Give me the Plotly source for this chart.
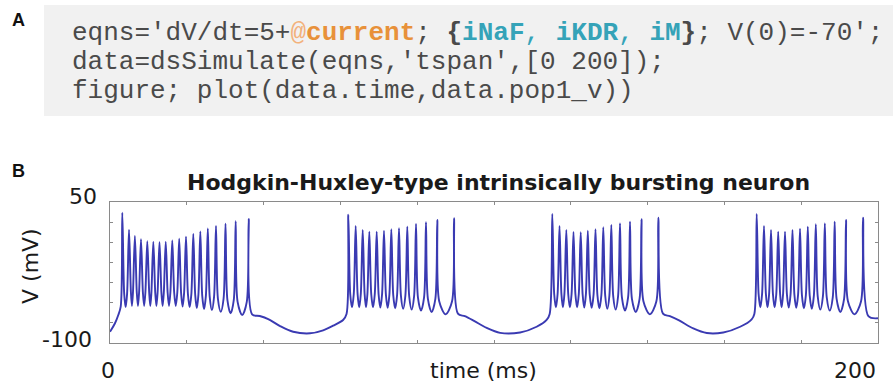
import plotly.graph_objects as go

# ---------------- data ----------------
# slow (sub-threshold) segments: time (ms), voltage (mV)
start_t = [0.0, 1.30, 2.16, 2.79]
start_v = [-88.0, -79.0, -70.2, -61.4]

inter1_t = [37.0, 39.0, 41.2, 44.3, 47.7, 52.1, 55.5, 58.1, 60.7, 61.6]
inter1_v = [-69.5, -71.3, -74.5, -82.0, -88.0, -89.7, -86.5, -81.6, -75.5, -69.1]

inter2_t = [90.6, 92.4, 94.8, 98.1, 101.6, 106.8, 111.1, 113.7, 114.5]
inter2_v = [-68.8, -71.5, -76.5, -84.0, -89.2, -88.8, -82.7, -75.5, -69.1]

inter3_t = [144.0, 145.8, 148.2, 151.9, 155.4, 159.7, 164.1, 167.1, 167.8]
inter3_v = [-68.8, -71.5, -76.0, -84.5, -89.4, -88.8, -82.7, -74.8, -69.1]

end_t = [197.5, 200.0]
end_v = [-71.5, -73.7]

# bursts: spike peak times (ms), peak voltages (mV), troughs between spikes (mV)
burst1_t = [3.20, 4.95, 6.48, 8.07, 9.71, 11.28, 12.89, 14.51, 16.22, 18.02,
            19.79, 21.69, 23.52, 25.47, 27.60, 30.08, 32.73, 36.12]
burst1_peak = [38.6, 20.5, 14.0, 10.4, 8.2, 7.8, 7.4, 7.8, 9.0, 11.0,
               13.1, 16.0, 18.6, 21.8, 24.5, 26.9, 29.6, 32.1]
burst1_trough = [-61.7, -60.6, -60.6, -60.6, -60.6, -60.6, -60.6, -60.6, -60.6,
                 -61.2, -61.7, -62.8, -63.8, -64.9, -66.7, -68.4, -70.2]

burst2_t = [62.06, 63.98, 65.81, 67.53, 69.45, 71.35, 73.26, 75.26, 77.42,
            79.69, 82.29, 85.23, 89.58]
burst2_peak = [36.5, 24.5, 20.2, 18.4, 18.4, 19.5, 21.0, 22.0, 23.7, 26.6, 28.4, 30.8, 32.7]
burst2_trough = [-62.0, -62.0, -62.0, -62.0, -62.3, -62.5, -63.0, -63.6, -64.5,
                 -65.5, -67.0, -69.5]

burst3_t = [115.18, 117.06, 118.83, 120.70, 122.58, 124.43, 126.43, 128.46,
            130.55, 132.81, 135.42, 138.41, 142.79]
burst3_peak = [37.2, 24.5, 20.2, 18.1, 17.8, 19.5, 21.0, 23.1, 25.5, 27.3, 29.0, 31.6, 33.3]
burst3_trough = [-62.0, -62.0, -62.0, -62.0, -62.3, -62.5, -63.0, -63.6, -64.5,
                 -65.5, -67.0, -69.5]

burst4_t = [168.41, 170.31, 172.14, 174.01, 175.78, 177.73, 179.69, 181.72,
            183.80, 186.15, 188.72, 191.67, 196.09]
burst4_peak = [37.2, 24.5, 20.2, 18.4, 18.4, 20.2, 21.6, 23.7, 26.3, 27.3, 29.0, 30.8, 33.3]
burst4_trough = [-62.0, -62.0, -62.0, -62.0, -62.3, -62.5, -63.0, -63.6, -64.5,
                 -65.5, -67.0, -69.5]

x_tick_labels = ["0", "200"]
y_tick_labels = ["-100", "50"]
x_title = "time (ms)"
y_title = "V (mV)"
plot_title = "Hodgkin-Huxley-type intrinsically bursting neuron"

# ---------------- styling constants ----------------
SPIKE_HALF_BASE = 0.50   # ms, half width of spike base
SPIKE_FOOT = 14.0        # mV above trough where the spike base sits
LINE_COLOR = "#3a3ab2"
AXIS_COLOR = "#8a8a8a"

W, H = 893, 385
L, R, T, B = 110, 878, 202, 343  # plot area in pixels


def burst_points(ts, peaks, troughs):
    xs, ys = [], []
    n = len(ts)
    for i in range(n):
        if i > 0:
            xs.append(ts[i] - SPIKE_HALF_BASE)
            ys.append(troughs[i - 1] + SPIKE_FOOT)
        xs.append(ts[i])
        ys.append(peaks[i])
        if i < n - 1:
            xs.append(ts[i] + SPIKE_HALF_BASE)
            ys.append(troughs[i] + SPIKE_FOOT)
            xs.append((ts[i] + ts[i + 1]) / 2)
            ys.append(troughs[i])
    return xs, ys


segments = [
    (start_t, start_v),
    burst_points(burst1_t, burst1_peak, burst1_trough),
    (inter1_t, inter1_v),
    burst_points(burst2_t, burst2_peak, burst2_trough),
    (inter2_t, inter2_v),
    burst_points(burst3_t, burst3_peak, burst3_trough),
    (inter3_t, inter3_v),
    burst_points(burst4_t, burst4_peak, burst4_trough),
    (end_t, end_v),
]
trace_t, trace_v = [], []
for xs, ys in segments:
    trace_t += list(xs)
    trace_v += list(ys)

fig = go.Figure()
fig.add_trace(go.Scatter(
    x=trace_t, y=trace_v, mode="lines",
    line=dict(color=LINE_COLOR, width=1.9, shape="spline", smoothing=0.9),
    hoverinfo="skip", showlegend=False,
))


def px_x(px):
    return (px - L) / (R - L)


def px_y(py):
    return (B - py) / (B - T)


y_dtick = (50 - (-100)) / 7.0

fig.update_layout(
    width=W, height=H,
    margin=dict(l=L, r=W - R, t=T, b=H - B, pad=0),
    paper_bgcolor="white", plot_bgcolor="white",
    showlegend=False,
    xaxis=dict(range=[0, 200], showgrid=False, zeroline=False,
               showline=True, linecolor=AXIS_COLOR, linewidth=1, mirror="ticks",
               ticks="inside", ticklen=3, tickcolor=AXIS_COLOR,
               tickmode="linear", tick0=0, dtick=20, showticklabels=False),
    yaxis=dict(range=[-100, 50], showgrid=False, zeroline=False,
               showline=True, linecolor=AXIS_COLOR, linewidth=1, mirror="ticks",
               ticks="inside", ticklen=3, tickcolor=AXIS_COLOR,
               tickmode="linear", tick0=-100, dtick=y_dtick, showticklabels=False),
)

# code box (panel A)
fig.add_shape(type="rect", xref="paper", yref="paper",
              x0=px_x(44), x1=px_x(W + 5), y0=px_y(116), y1=px_y(5),
              fillcolor="#f1f1f1", line=dict(width=0), layer="below")

MONO = "Liberation Mono, Courier New, monospace"
BASE = "#4a4a4a"
ORANGE = "#e8913a"
ORANGE_L = "#f3b27c"
TEAL = "#35a3b8"
code_lines = [
    ("eqns='dV/dt=5+"
     f"<span style='color:{ORANGE_L}'>@</span>"
     f"<b><span style='color:{ORANGE}'>current</span></b>; "
     f"<b>{{</b><b><span style='color:{TEAL}'>iNaF</span></b>"
     f"<span style='color:{TEAL}'>, </span>"
     f"<b><span style='color:{TEAL}'>iKDR</span></b>"
     f"<span style='color:{TEAL}'>, </span>"
     f"<b><span style='color:{TEAL}'>iM</span></b><b>}}</b>; V(0)=-70';"),
    "data=dsSimulate(eqns,'tspan',[0 200]);",
    "figure; plot(data.time,data.pop1_v))",
]
code_y = [33, 62, 91]
for txt, yy in zip(code_lines, code_y):
    fig.add_annotation(text=txt, xref="paper", yref="paper",
                       x=px_x(70), y=px_y(yy), xanchor="left", yanchor="middle",
                       showarrow=False, font=dict(family=MONO, size=26, color=BASE))

SANS = "DejaVu Sans, Liberation Sans, Arial, sans-serif"
# panel letters
fig.add_annotation(text="<b>A</b>", xref="paper", yref="paper", x=px_x(18), y=px_y(20),
                   xanchor="center", yanchor="middle", showarrow=False,
                   font=dict(family="Liberation Sans, Arial", size=18, color="#111"))
fig.add_annotation(text="<b>B</b>", xref="paper", yref="paper", x=px_x(18), y=px_y(171),
                   xanchor="center", yanchor="middle", showarrow=False,
                   font=dict(family="Liberation Sans, Arial", size=18, color="#111"))

# title
fig.add_annotation(text=f"<b>{plot_title}</b>", xref="paper", yref="paper",
                   x=px_x(498), y=px_y(182), xanchor="center", yanchor="middle",
                   showarrow=False, font=dict(family=SANS, size=22, color="#1a1a1a"))

# axis labels
fig.add_annotation(text=y_title, xref="paper", yref="paper", x=px_x(30), y=px_y(266),
                   xanchor="center", yanchor="middle", textangle=-90, showarrow=False,
                   font=dict(family=SANS, size=22, color="#1a1a1a"))
fig.add_annotation(text=x_title, xref="paper", yref="paper", x=px_x(483), y=px_y(370),
                   xanchor="center", yanchor="middle", showarrow=False,
                   font=dict(family=SANS, size=22, color="#1a1a1a"))

# tick labels
fig.add_annotation(text=x_tick_labels[0], xref="x", yref="paper", x=0, y=px_y(370),
                   xanchor="center", yanchor="middle", showarrow=False, xshift=-2,
                   font=dict(family=SANS, size=22, color="#1a1a1a"))
fig.add_annotation(text=x_tick_labels[1], xref="x", yref="paper", x=200, y=px_y(370),
                   xanchor="right", yanchor="middle", showarrow=False,
                   font=dict(family=SANS, size=22, color="#1a1a1a"))
fig.add_annotation(text=y_tick_labels[0], xref="paper", yref="y", x=px_x(94), y=-100,
                   xanchor="right", yanchor="middle", showarrow=False, yshift=4,
                   font=dict(family=SANS, size=22, color="#1a1a1a"))
fig.add_annotation(text=y_tick_labels[1], xref="paper", yref="y", x=px_x(99), y=50,
                   xanchor="right", yanchor="middle", showarrow=False, yshift=6,
                   font=dict(family=SANS, size=22, color="#1a1a1a"))

fig.write_html("out.html")
